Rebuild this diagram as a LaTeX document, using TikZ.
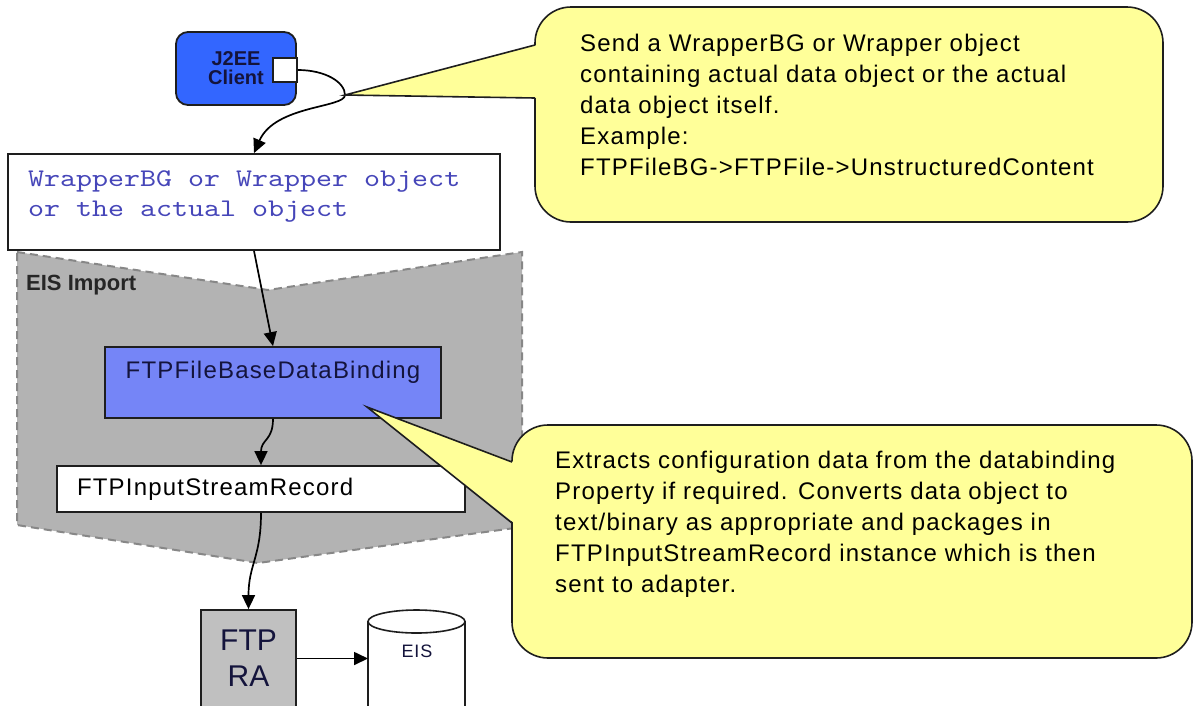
\documentclass[tikz,border=0pt]{standalone}
\usepackage{fontspec}
\setmainfont{Liberation Sans}
\newfontfamily\notefont[LetterSpace=5]{Liberation Sans}
\newfontfamily\codefont[FakeStretch=1.2]{lmmono10-regular.otf}
\usetikzlibrary{arrows.meta}

\definecolor{clientblue}{RGB}{51,102,255}
\definecolor{bindblue}{RGB}{117,133,247}
\definecolor{importgrey}{RGB}{179,179,179}
\definecolor{ragrey}{RGB}{192,192,192}
\definecolor{noteyellow}{RGB}{255,255,153}
\definecolor{codeblue}{RGB}{70,70,185}
\definecolor{navytext}{RGB}{20,20,60}
\definecolor{edgegrey}{RGB}{30,30,30}
\definecolor{dashgrey}{RGB}{135,135,135}

\begin{document}
\begin{tikzpicture}[x=1pt,y=-1pt,
  box/.style={draw=edgegrey, line width=1.8pt, inner sep=0pt},
  flow/.style={draw=black, line width=1.7pt, -{Triangle[length=14pt,width=13pt]}},
  note/.style={draw=edgegrey, fill=noteyellow, line width=1.6pt, rounded corners=36pt, inner sep=0pt},
  notetext/.style={anchor=north west, inner sep=0pt, align=left, font=\notefont\fontsize{24pt}{31pt}\selectfont},
  wedge/.style={fill=noteyellow},
  wedgeedge/.style={draw=edgegrey, line width=1.6pt, line join=miter}
]
\useasboundingbox (0,0) rectangle (1194,705);
\clip (0,0) rectangle (1194,705);
\fill[white] (0,0) rectangle (1194,705);

% EIS Import region
\draw[fill=importgrey, draw=dashgrey, line width=2pt, dash pattern=on 8pt off 5pt]
  (17,252) -- (268,290) -- (522,252) -- (522,527) -- (258,563) -- (17,525) -- cycle;
\node[anchor=west, inner sep=0pt, font=\bfseries\fontsize{22pt}{26pt}\selectfont, text=black!85]
  (importlabel) at (26,285) {EIS Import};

% client and its port
\node[box, fill=clientblue, rounded corners=12pt, minimum width=120pt, minimum height=73pt,
  align=center, font=\bfseries\fontsize{20pt}{19pt}\selectfont, text=navytext]
  (client) at (236,68.5) {J2EE\\Client};
\node[box, fill=white, minimum width=24pt, minimum height=24pt] (port) at (285,70) {};

% data object box
\node[box, fill=white, minimum width=492pt, minimum height=96pt] (wrapper) at (254,202) {};
\node[anchor=north west, inner sep=0pt, align=left, text=codeblue,
  font=\codefont\fontsize{25.4pt}{30pt}\selectfont]
  (wrappertext) at (28,170) {WrapperBG or Wrapper object\\or the actual object};

% data binding
\node[box, fill=bindblue, minimum width=336pt, minimum height=71pt, text=navytext,
  font=\notefont\fontsize{24pt}{28pt}\selectfont, text height=31.6pt, text depth=39.4pt]
  (binding) at (273,382.5) {FTPFileBaseDataBinding};

% input stream record
\node[box, fill=white, minimum height=46pt, text width=368pt, inner xsep=20pt, align=left,
  font=\notefont\fontsize{24pt}{28pt}\selectfont, text=black]
  (record) at (261,489) {FTPInputStreamRecord};

% resource adapter
\node[box, fill=ragrey, minimum width=95pt, minimum height=97pt, align=center,
  font=\fontsize{30pt}{36pt}\selectfont, text=navytext]
  (ra) at (248.5,658.5) {FTP\\RA};

% EIS cylinder
\draw[fill=white, draw=edgegrey, line width=1.6pt] (368,621.5) -- (368,730) -- (465,730) -- (465,621.5);
\draw[fill=white, draw=edgegrey, line width=1.6pt] (416.5,621.5) ellipse [x radius=48.5pt, y radius=11.5pt];
\coordinate (eisinlet) at (368,658);
\node[font=\notefont\fontsize{18pt}{20pt}\selectfont, text=navytext, inner sep=0pt] (eis) at (417,651) {EIS};

% flow connectors
\coordinate (loop) at (345,95);
\draw[flow] (port.east) .. controls (325,70) and (345,82) .. (loop)
  .. controls (345,108) and (275,105) .. (wrapper.north);
\draw[flow] (wrapper.south) -- (binding.north);
\draw[flow] (binding.south) .. controls +(0,22) and +(0,-26) .. (record.north);
\draw[flow] (record.south) .. controls +(0,45) and +(0,-45) .. (ra.north);
\draw[flow] (ra.east) -- (ra.east -| eisinlet);

% callout for the client
\node[note, minimum width=628pt, minimum height=215pt] (note1) at (849,114.5) {};
\fill[wedge] (loop) -- (537,45) -- (537,98) -- cycle;
\draw[wedgeedge] (535,45) -- (loop) -- (535,98);
\node[notetext] (note1text) at (580,34)
  {Send a WrapperBG or Wrapper object\\containing actual data object or the actual\\data object itself.\\Example:\\FTPFileBG->FTPFile->UnstructuredContent};

% callout for the data binding
\coordinate (bindtip) at (367,407);
\node[note, minimum width=680pt, minimum height=233pt] (note2) at (852,541.5) {};
\fill[wedge] (bindtip) -- (514,462) -- (514,523) -- cycle;
\draw[wedgeedge] (512,462) -- (bindtip) -- (512,523);
\node[notetext] (note2text) at (555,451)
  {Extracts configuration data from the databinding\\Property if required. Converts data object to\\text/binary as appropriate and packages in\\FTPInputStreamRecord instance which is then\\sent to adapter.};
\end{tikzpicture}
\end{document}
